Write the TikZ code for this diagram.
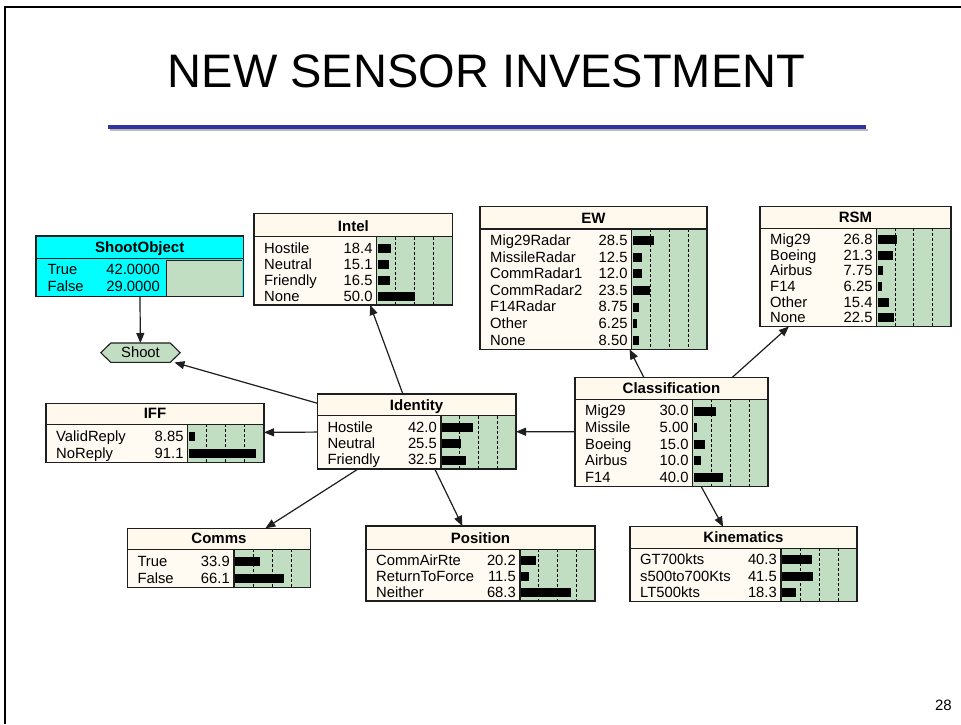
\documentclass[tikz,border=0pt]{standalone}
\usepackage{fontspec}
\setmainfont{Liberation Sans}
\usetikzlibrary{arrows.meta}
\definecolor{titlefill}{RGB}{255,248,236}
\definecolor{bodyfill}{RGB}{255,251,242}
\definecolor{barfill}{RGB}{194,222,194}
\definecolor{cyanfill}{RGB}{0,255,255}
\definecolor{edgecol}{RGB}{30,30,30}
\definecolor{blueline}{RGB}{51,51,160}
\tikzset{
  rowtext/.style={inner sep=0pt, font=\fontsize{14.8}{16}\selectfont},
  headtext/.style={inner sep=0pt, font=\fontsize{15}{16}\selectfont\bfseries},
  bnframe/.style={draw=edgecol, line width=1.4pt, inner sep=0pt, outer sep=0pt, rectangle},
  gridline/.style={black, line width=0.9pt, dash pattern=on 3pt off 2pt},
  arr/.style={edgecol, line width=1.2pt, -{Triangle[length=10pt,width=8pt]}},
}
\newcount\bncount
\def\bnnode#1(#2,#3,#4,#5,#6,#7)#8#9{%
  \fill[titlefill] (#2,#3) rectangle (#4,#5);
  \fill[bodyfill] (#2,#5) rectangle (#7,#6);
  \fill[barfill] (#7,#5) rectangle (#4,#6);
  \foreach \k in {1,2,3} {\draw[gridline] ({#7+\k*(#4-#7)/4},#5) -- ({#7+\k*(#4-#7)/4},#6);}
  \global\bncount=0
  \foreach \lab/\val in {#9} {\global\advance\bncount by 1}
  \pgfmathsetmacro\bnh{(#6-#5-4.2)/\the\bncount}
  \foreach \lab/\val [count=\i] in {#9} {
    \pgfmathsetmacro\yc{#5+3.4+(\i-0.5)*\bnh}
    \node[rowtext, anchor=base west] at ({#2+10},{\yc+4.9}) {\lab};
    \node[rowtext, anchor=base east] at ({#7-4},{\yc+4.9}) {\val};
    \fill[black] ({#7+1},{\yc-4.5}) rectangle ({#7+1+\val/100*(#4-#7-2)},{\yc+4.5});
  }
  \node[headtext, anchor=base] at ({(#2+#4)/2},{#5-5.7}) {#8};
  \draw[edgecol, line width=1.2pt] (#2,#5) -- (#4,#5);
  \draw[edgecol, line width=1.2pt] (#7,#5) -- (#7,#6);
  \pgfmathsetmacro\bnW{#4-#2}
  \pgfmathsetmacro\bnH{#6-#3}
  \node[bnframe, minimum width=\bnW pt, minimum height=\bnH pt] (#1) at ({(#2+#4)/2},{(#3+#6)/2}) {};
}
\begin{document}
\begin{tikzpicture}[x=1pt, y=-1pt]
\useasboundingbox (0,0) rectangle (961,724);
\fill[white] (0,0) rectangle (961,724);
% frame
\draw[black, line width=2pt] (5,724) -- (5,6.5) -- (961,6.5);
% title
\node[inner sep=0pt, anchor=base, font=\fontsize{47}{50}\selectfont] (title) at (486.5,87) {NEW SENSOR INVESTMENT};
\fill[gray!55] (110,128.5) rectangle (868,131);
\fill[blueline] (108,124.5) rectangle (866,128.5);
% page number
\node[inner sep=0pt, anchor=base east, font=\fontsize{15}{17}\selectfont] (pnum) at (952,710) {28};

% ShootObject
\fill[cyanfill] (36,236) rectangle (243.3,296.7);
\fill[barfill] (166.7,260.7) rectangle (242.3,295.7);
\draw[edgecol, line width=1.2pt] (166.7,295.7) -- (166.7,260.7) -- (242.3,260.7);
\draw[edgecol, line width=1.2pt] (36,258.3) -- (243.3,258.3);
\node[headtext, anchor=base] at (139.7,252.6) {ShootObject};
\node[rowtext, anchor=base west] at (47.3,274.3) {True};
\node[rowtext, anchor=base east] at (160,274.3) {42.0000};
\node[rowtext, anchor=base west] at (47.3,291) {False};
\node[rowtext, anchor=base east] at (160,291) {29.0000};
\node[bnframe, minimum width=207.3pt, minimum height=60.7pt] (shootobj) at (139.65,266.35) {};

% Shoot hexagon
\node[rowtext, minimum width=79pt, minimum height=19pt] (shoot) at (140.5,352.7) {};
\filldraw[fill=barfill, draw=edgecol, line width=1.1pt]
  (shoot.west) -- ([xshift=10pt]shoot.north west) -- ([xshift=-10pt]shoot.north east) -- (shoot.east)
  -- ([xshift=-10pt]shoot.south east) -- ([xshift=10pt]shoot.south west) -- cycle;
\node[rowtext] at (shoot.center) {Shoot};

\bnnode{intel}(254,213.3,452.7,236.7,305,376.7){Intel}{Hostile/18.4, Neutral/15.1, Friendly/16.5, None/50.0}
\bnnode{ew}(480,206.7,707,229,349.3,631.7){EW}{Mig29Radar/28.5, MissileRadar/12.5, CommRadar1/12.0, CommRadar2/23.5, F14Radar/8.75, Other/6.25, None/8.50}
\bnnode{rsm}(760,206.7,951,228.3,326.5,876.7){RSM}{Mig29/26.8, Boeing/21.3, Airbus/7.75, F14/6.25, Other/15.4, None/22.5}
\bnnode{iff}(46,403.3,264,424.3,462.7,187.7){IFF}{ValidReply/8.85, NoReply/91.1}
\bnnode{identity}(317.3,394,516,415.7,469,441){Identity}{Hostile/42.0, Neutral/25.5, Friendly/32.5}
\bnnode{classif}(575,377.3,768,399.3,486.7,692.7){Classification}{Mig29/30.0, Missile/5.00, Boeing/15.0, Airbus/10.0, F14/40.0}
\bnnode{comms}(127.3,528.3,310.7,549.3,587.7,234){Comms}{True/33.9, False/66.1}
\bnnode{position}(366,526,595,549.3,601,520){Position}{CommAirRte/20.2, ReturnToForce/11.5, Neither/68.3}
\bnnode{kin}(630,526.7,857,548.3,601.7,781){Kinematics}{GT700kts/40.3, s500to700Kts/41.5, LT500kts/18.3}

% connectors
\draw[arr] (shootobj) -- (shoot);
\draw[arr] (identity) -- (shoot);
\draw[arr] (identity) -- (intel);
\draw[arr] (identity) -- (iff);
\draw[arr] (identity) -- (comms);
\draw[arr] (identity) -- (position);
\draw[arr] (classif) -- (identity);
\draw[arr] (classif) -- (ew);
\draw[arr] (classif) -- (rsm);
\draw[arr] (classif) -- (kin);
\end{tikzpicture}
\end{document}
